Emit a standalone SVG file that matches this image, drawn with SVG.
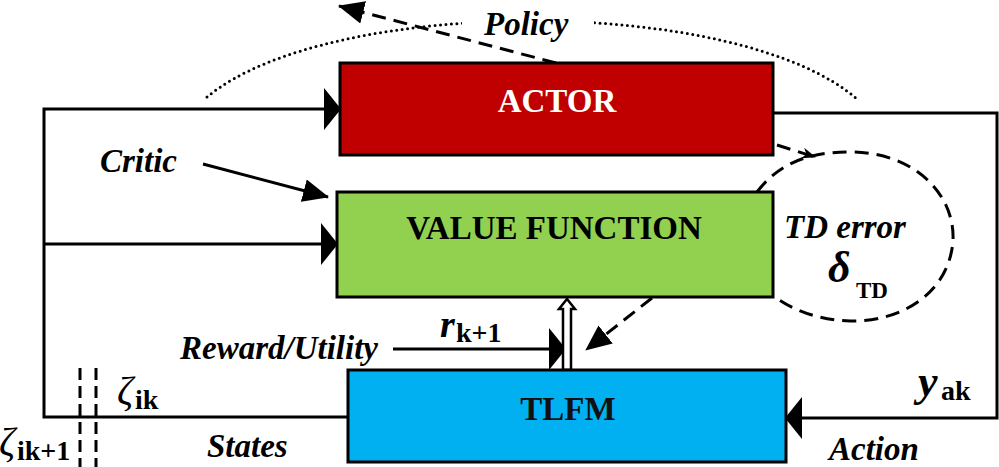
<svg xmlns="http://www.w3.org/2000/svg" width="999" height="467" viewBox="0 0 999 467">
<style>
text{font-family:"Liberation Serif","Times New Roman",serif;}
.lbl{font-size:33px;font-weight:bold;font-style:italic;fill:#000;}
.box{stroke:#000;stroke-width:3;}
.ttl{font-size:33px;font-weight:bold;text-anchor:middle;}
.ln{fill:none;stroke:#000;stroke-width:3;}
.dash{fill:none;stroke:#000;stroke-width:3;stroke-dasharray:14 8;}
.dot{fill:none;stroke:#000;stroke-width:3;stroke-dasharray:0 5.5;stroke-linecap:round;}
.sub{font-size:28px;font-weight:bold;}
</style>
<defs>
<marker id="tall" markerUnits="userSpaceOnUse" markerWidth="17" markerHeight="42" refX="16" refY="21" orient="auto" viewBox="0 0 17 42">
<path d="M0,0 L17,21 L0,42 Z" fill="#000"/>
</marker>
<marker id="big" markerUnits="userSpaceOnUse" markerWidth="26" markerHeight="23" refX="25" refY="11.5" orient="auto" viewBox="0 0 26 23">
<path d="M0,0 L26,11.5 L0,23 Z" fill="#000"/>
</marker>
<marker id="small" markerUnits="userSpaceOnUse" markerWidth="14" markerHeight="11" refX="13" refY="5.5" orient="auto" viewBox="0 0 14 11">
<path d="M0,0 L14,5.5 L0,11 L4,5.5 Z" fill="#000"/>
</marker>
<clipPath id="gap">
<path clip-rule="evenodd" d="M0,0H999V467H0Z M462,0H594V46H462Z"/>
</clipPath>
</defs>

<g id="connectors">
<path class="dot" clip-path="url(#gap)" d="M207,97 C330,-5 740,-5 858,100"/>
<path class="dash" d="M556,63 L339,6" marker-end="url(#big)"/>
<path class="ln" d="M348,417 H44 V109 H340" marker-end="url(#tall)"/>
<path class="ln" d="M44,244 H337" marker-end="url(#tall)"/>
<path class="ln" d="M773,113 H997 V418 H786" marker-end="url(#tall)"/>
<path class="ln" d="M203,164 L328,197" marker-end="url(#big)"/>
<path class="ln" d="M393,349 H565" marker-end="url(#tall)"/>
<polygon points="563,370 563,309 559,309 567,299 575,309 571,309 571,370" fill="#fff" stroke="#000" stroke-width="2.5"/>
<path class="dash" d="M777,145 L815,157" marker-end="url(#small)"/>
<path class="dash" d="M757,192 C780,162 810,152 850,152 C915,152 955,195 953,240 C950,290 905,322 850,321 C815,320 790,308 775,297"/>
<path class="dash" d="M652,298 L586,350" marker-end="url(#big)"/>
<path class="dash" d="M80,368 V467 M96,368 V467" style="stroke-dasharray:12 6"/>
</g>

<g id="actor">
<rect class="box" x="340" y="63" width="433" height="92" fill="#c00000"/>
<text class="ttl" x="557" y="112" fill="#fff">ACTOR</text>
</g>
<g id="value-function">
<rect class="box" x="337" y="192" width="436" height="105" fill="#92d050"/>
<text class="ttl" x="554" y="239" fill="#000">VALUE FUNCTION</text>
</g>
<g id="tlfm">
<rect class="box" x="348" y="370" width="438" height="92" fill="#00b0f0"/>
<text class="ttl" x="568" y="420" fill="#111">TLFM</text>
</g>

<g id="labels">
<text class="lbl" x="484" y="35">Policy</text>
<text class="lbl" x="100" y="172">Critic</text>
<text class="lbl" x="180" y="359">Reward/Utility</text>
<text class="lbl" x="207" y="457">States</text>
<text class="lbl" x="829" y="460">Action</text>
<text class="lbl" x="784" y="238">TD error</text>
<text x="828" y="282" style="font-size:44px;font-weight:bold;font-style:italic">δ</text>
<text x="856" y="298" style="font-size:23px;font-weight:bold">TD</text>
<text x="918" y="396" style="font-size:44px;font-weight:bold;font-style:italic">y</text>
<text x="941" y="400" style="font-size:28px;font-weight:bold">ak</text>
<text x="440" y="337" style="font-size:38px;font-weight:bold;font-style:italic">r</text>
<text class="sub" x="456" y="342">k+1</text>
<text x="117" y="404" style="font-size:40px;font-style:italic">ζ</text>
<text class="sub" x="135" y="409">ik</text>
<text x="-1" y="455" style="font-size:40px;font-style:italic">ζ</text>
<text class="sub" x="17" y="460">ik+1</text>
</g>
</svg>
